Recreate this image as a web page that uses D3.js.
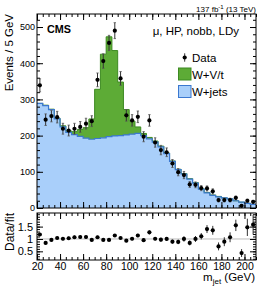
<!DOCTYPE html>
<html><head><meta charset="utf-8">
<script src="https://cdn.jsdelivr.net/npm/d3@7/dist/d3.min.js"></script>
<style>
body{margin:0;background:#fff}
svg{display:block}
text{font-family:"Liberation Sans",Arial,Helvetica,sans-serif;fill:#000}
</style>
</head><body>
<svg id="c" width="266" height="306"></svg>
<script>
// ---- data (5 GeV bins, lower edges) ----
const binLow = [20,25,30,35,40,45,50,55,60,65,70,75,80,85,90,95,100,105,110,115,120,125,130,135,140,145,150,155,160,165,170,175,180,185,190,195,200,205];
const wjets = [289,283,272,246,224,209,203,198,193,190,192,194,197,199,200,202,204,206,200,191,182,169,150,129,106,94,80,69,52,42,35,31,28,25,20,16,13,10];
const wvt   = [0,1,1,2,3,4,8,19,29,56,136,231,276,236,148,70,36,18,6,4,3,2,2,1,1,1,1,1,1,1,1,1,0,0,0,0,0,0];
const data  = [339,244,254,251,219,214,219,224,233,240,354,406,456,490,358,256,242,252,197,242,181,160,154,123,99,91,65,64,55,54,46,22,22,22,28,6,20,17];
const dataErr = [18,16,16,16,15,15,15,15,15,15,19,20,21,22,19,16,16,16,14,16,13,13,12,11,10,10,8,8,7,7,7,5,5,5,5,2.5,4.5,4];
const ratio = [1.18,0.84,0.96,1.04,1.01,1.03,1.07,1.08,1.08,0.96,1.07,0.96,0.96,1.14,1.04,0.93,1.01,1.14,0.95,1.27,1.01,0.97,1.0,0.89,0.88,1.0,0.84,1.0,1.11,1.4,1.35,0.70,0.89,1.07,1.55,0.43,1.47,1.58];
const ratioErr = [0.06,0.06,0.06,0.06,0.07,0.07,0.07,0.07,0.07,0.06,0.06,0.05,0.04,0.05,0.05,0.06,0.07,0.07,0.07,0.08,0.07,0.08,0.08,0.08,0.09,0.11,0.1,0.12,0.13,0.16,0.18,0.16,0.18,0.2,0.23,0.16,0.35,0.4];
const binW = 5;
const xMajor = [20,40,60,80,100,120,140,160,180,200];
const yMajor = [0,100,200,300,400,500];
const rMajor = [0.5,1,1.5];

const svg = d3.select("#c");
const L=37, R=256, T=14, B=208, RT=213, RB=260;
const x = d3.scaleLinear().domain([20,210]).range([L,R]);
const y = d3.scaleLinear().domain([0,536]).range([B,T]);
const yr = d3.scaleLinear().domain([0.15,2.05]).range([RB,RT]);

const cBlueFill="#a9cffa", cBlueLine="#3b78d0", cGreenFill="#5dab36", cGreenLine="#3d8a22";

// stacked histogram
const pts = binLow.map((b,i)=>({x:b, lo:wjets[i], hi:wjets[i]+wvt[i]}));
const last = pts[pts.length-1];
pts.push({x:binLow[binLow.length-1]+binW, lo:last.lo, hi:last.hi});

const g = svg.append("g");
g.append("path").datum(pts)
  .attr("d", d3.area().curve(d3.curveStepAfter).x(d=>x(d.x)).y0(y(0)).y1(d=>y(d.lo)))
  .attr("fill", cBlueFill);
g.append("path").datum(pts)
  .attr("d", d3.area().curve(d3.curveStepAfter).x(d=>x(d.x)).y0(d=>y(d.lo)).y1(d=>y(d.hi)))
  .attr("fill", cGreenFill);
g.append("path").datum(pts)
  .attr("d", d3.line().curve(d3.curveStepAfter).x(d=>x(d.x)).y(d=>y(d.hi)))
  .attr("fill","none").attr("stroke",cGreenLine).attr("stroke-width",1);
g.append("path").datum(pts)
  .attr("d", d3.line().curve(d3.curveStepAfter).x(d=>x(d.x)).y(d=>y(d.lo)))
  .attr("fill","none").attr("stroke",cBlueLine).attr("stroke-width",1.2);

// data points
const dp = svg.append("g");
binLow.forEach((b,i)=>{
  const cx = x(b+binW/2);
  dp.append("line").attr("x1",cx).attr("x2",cx)
    .attr("y1",y(data[i]-dataErr[i])).attr("y2",y(data[i]+dataErr[i]))
    .attr("stroke","#333").attr("stroke-width",1);
  [data[i]-dataErr[i], data[i]+dataErr[i]].forEach(v=>{
    dp.append("line").attr("x1",cx-1.2).attr("x2",cx+1.2).attr("y1",y(v)).attr("y2",y(v))
      .attr("stroke","#555").attr("stroke-width",0.8);
  });
  dp.append("circle").attr("cx",cx).attr("cy",y(data[i])).attr("r",2.1).attr("fill","#000");
});

// frames and axes (ticks inside)
function frame(top,bottom){
  svg.append("rect").attr("x",L).attr("y",top).attr("width",R-L).attr("height",bottom-top)
    .attr("fill","none").attr("stroke","#000").attr("stroke-width",1);
}
function styleAxis(sel){ sel.select(".domain").remove(); sel.selectAll(".tick line").attr("stroke","#000"); }

function xTicks(top,bottom,labels){
  const minor = d3.range(20,211,5);
  const ab = svg.append("g").attr("transform",`translate(0,${bottom})`)
    .call(d3.axisBottom(x).tickValues(minor).tickSize(-3).tickFormat(""));
  styleAxis(ab);
  const ab2 = svg.append("g").attr("transform",`translate(0,${bottom})`)
    .call(d3.axisBottom(x).tickValues(xMajor).tickSize(-6).tickPadding(3).tickFormat(labels? d3.format("d"):""));
  styleAxis(ab2);
  if(labels) ab2.selectAll("text").attr("font-size","10.5px").attr("font-family","Liberation Sans, Arial, sans-serif").attr("fill","#000");
  const at = svg.append("g").attr("transform",`translate(0,${top})`)
    .call(d3.axisTop(x).tickValues(minor).tickSize(-3).tickFormat(""));
  styleAxis(at);
  const at2 = svg.append("g").attr("transform",`translate(0,${top})`)
    .call(d3.axisTop(x).tickValues(xMajor).tickSize(-6).tickFormat(""));
  styleAxis(at2);
}
xTicks(T,B,false);
xTicks(RT,RB,true);

// main y axis
{
  const minor = d3.range(0,537,20);
  const a1 = svg.append("g").attr("transform",`translate(${L},0)`)
    .call(d3.axisLeft(y).tickValues(minor).tickSize(-3).tickFormat("")); styleAxis(a1);
  const a2 = svg.append("g").attr("transform",`translate(${L},0)`)
    .call(d3.axisLeft(y).tickValues(yMajor).tickSize(-6).tickPadding(2).tickFormat(d3.format("d"))); styleAxis(a2);
  a2.selectAll("text").attr("font-size","9px").attr("font-family","Liberation Sans, Arial, sans-serif").attr("fill","#000");
  const a3 = svg.append("g").attr("transform",`translate(${R},0)`)
    .call(d3.axisRight(y).tickValues(minor).tickSize(-3).tickFormat("")); styleAxis(a3);
  const a4 = svg.append("g").attr("transform",`translate(${R},0)`)
    .call(d3.axisRight(y).tickValues(yMajor).tickSize(-6).tickFormat("")); styleAxis(a4);
}
frame(T,B);

// ratio panel
svg.append("line").attr("x1",L).attr("x2",R).attr("y1",yr(1)).attr("y2",yr(1))
  .attr("stroke","#bbb").attr("stroke-width",1);
{
  const minor = d3.range(0.2,2.01,0.1);
  const a1 = svg.append("g").attr("transform",`translate(${L},0)`)
    .call(d3.axisLeft(yr).tickValues(minor).tickSize(-3).tickFormat("")); styleAxis(a1);
  const a2 = svg.append("g").attr("transform",`translate(${L},0)`)
    .call(d3.axisLeft(yr).tickValues(rMajor).tickSize(-6).tickPadding(4).tickFormat(d=>String(d))); styleAxis(a2);
  a2.selectAll("text").attr("font-size","11px").attr("font-family","Liberation Sans, Arial, sans-serif").attr("fill","#000");
  const a3 = svg.append("g").attr("transform",`translate(${R},0)`)
    .call(d3.axisRight(yr).tickValues(minor).tickSize(-3).tickFormat("")); styleAxis(a3);
  const a4 = svg.append("g").attr("transform",`translate(${R},0)`)
    .call(d3.axisRight(yr).tickValues(rMajor).tickSize(-6).tickFormat("")); styleAxis(a4);
}
const rp = svg.append("g");
binLow.forEach((b,i)=>{
  const cx = x(b+binW/2);
  rp.append("line").attr("x1",cx).attr("x2",cx)
    .attr("y1",yr(Math.max(0.15,ratio[i]-ratioErr[i]))).attr("y2",yr(ratio[i]+ratioErr[i]))
    .attr("stroke","#333").attr("stroke-width",1);
  rp.append("circle").attr("cx",cx).attr("cy",yr(ratio[i])).attr("r",2.1).attr("fill","#000");
});
frame(RT,RB);

// texts
svg.append("text").attr("transform","translate(13,14) rotate(-90)").attr("text-anchor","end")
  .attr("font-size","11.5px").text("Events / 5 GeV");
svg.append("text").attr("transform","translate(13.5,213) rotate(-90)").attr("text-anchor","end")
  .attr("font-size","12px").text("Data/fit");
const xt = svg.append("text").attr("x",255).attr("y",281).attr("text-anchor","end").attr("font-size","11.5px");
xt.append("tspan").text("m");
xt.append("tspan").attr("font-size","8px").attr("dy","3").text("jet");
xt.append("tspan").attr("dy","-3").text(" (GeV)");

svg.append("text").attr("x",47).attr("y",33).attr("font-size","10.8px").attr("font-weight","bold").text("CMS");
const lumi = svg.append("text").attr("x",256).attr("y",12).attr("text-anchor","end").attr("font-size","8px");
lumi.append("tspan").text("137 fb");
lumi.append("tspan").attr("font-size","6px").attr("dy","-3").text("-1");
lumi.append("tspan").attr("dy","3").text(" (13 TeV)");
svg.append("text").attr("x",239).attr("y",35).attr("text-anchor","end").attr("font-size","11.5px").text("μ, HP, nobb, LDy");

// legend
const lg = svg.append("g");
lg.append("line").attr("x1",184.7).attr("x2",184.7).attr("y1",53.3).attr("y2",61.7).attr("stroke","#333");
lg.append("circle").attr("cx",184.7).attr("cy",57.5).attr("r",2.1).attr("fill","#000");
lg.append("text").attr("x",192).attr("y",61.5).attr("font-size","11.5px").text("Data");
lg.append("rect").attr("x",178.5).attr("y",68).attr("width",12.5).attr("height",12)
  .attr("fill",cGreenFill).attr("stroke",cGreenLine).attr("stroke-width",1);
lg.append("text").attr("x",192).attr("y",78.5).attr("font-size","11.5px").text("W+V/t");
lg.append("rect").attr("x",178.5).attr("y",85.5).attr("width",12.5).attr("height",12)
  .attr("fill",cBlueFill).attr("stroke",cBlueLine).attr("stroke-width",1);
lg.append("text").attr("x",192).attr("y",95.5).attr("font-size","11.5px").text("W+jets");
</script>
</body></html>
